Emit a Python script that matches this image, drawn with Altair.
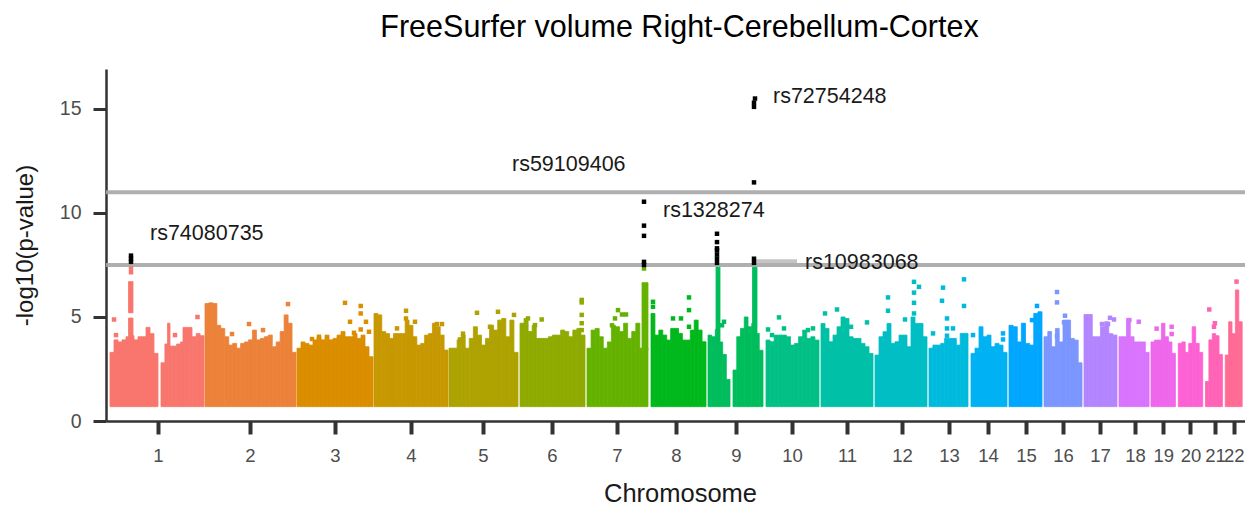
import math
import altair as alt
import pandas as pd

title_text = "FreeSurfer volume Right-Cerebellum-Cortex"
chrom_labels = [str(i) for i in range(1, 23)]
tick_pos = [158, 250, 335, 411, 483, 552, 617, 676, 736, 792, 847, 902, 949, 988, 1026, 1063, 1100, 1136, 1166, 1195, 1221, 1241]

# (chromosome, start, end, envelope of -log10 p across the segment)
seg_1a = (1, 110, 158, [3.3, 3.9, 3.8, 3.9, 4.05, 4.1, 3.9, 4.05, 4.05, 4.5, 4.2, 3.25])
seg_1b = (1, 161, 204, [2.8, 3.7, 3.6, 3.6, 3.7, 3.8, 3.95, 4.05, 4.05, 4.2, 4.1])
seg_2 = (2, 205, 296, [5.65, 5.68, 5.65, 4.6, 4.45, 4.05, 3.65, 3.73, 3.5, 3.73, 3.8, 3.9, 4.37, 3.9, 3.97, 4.05, 4.13, 3.57, 3.8, 4.3, 5.1, 4.7, 3.3])
seg_3 = (3, 297, 373, [3.5, 3.8, 3.73, 3.65, 3.9, 4.05, 3.9, 4.13, 3.9, 3.97, 4.13, 4.3, 4.05, 4.05, 4.2, 3.97, 4.13, 3.57, 3.09])
seg_4 = (4, 374, 448, [5.17, 5.1, 4.3, 4.2, 3.97, 4.2, 4.2, 4.2, 4.85, 4.6, 4.05, 3.65, 3.73, 4.13, 4.2, 4.7, 4.53, 4.13, 3.41])
seg_5 = (5, 449, 518, [3.5, 3.5, 3.9, 4.13, 3.5, 3.97, 4.53, 4.13, 3.65, 3.97, 4.6, 4.37, 4.85, 4.93, 4.05, 4.85, 3.3])
seg_6 = (6, 520, 585, [4.7, 4.93, 4.3, 4.6, 3.97, 3.97, 3.97, 4.05, 4.13, 4.13, 4.37, 4.3, 4.05, 4.37, 4.45, 4.13])
seg_7 = (7, 587, 648, [3.5, 4.37, 4.45, 4.05, 3.5, 3.8, 4.6, 4.53, 4.3, 4.7, 3.97, 4.3, 4.7, 3.5, 3.5])
seg_8 = (8, 651, 706, [5.17, 4.13, 4.37, 4.13, 3.89, 4.45, 4.45, 4.21, 3.89, 3.89, 4.37, 4.85, 4.37, 3.81])
seg_9a = (9, 708, 730, [4.13, 4.05, 4.4, 3.8, 3.2, 2.0])
seg_9b = (9, 733, 763, [2.45, 4.05, 4.45, 5.0, 4.53, 4.69, 4.21, 3.4])
seg_10 = (10, 766, 819, [3.89, 3.81, 4.13, 4.13, 4.13, 4.05, 3.65, 3.73, 4.05, 4.37, 3.97, 4.05, 3.89])
seg_11 = (11, 821, 873, [4.69, 4.45, 3.81, 4.13, 4.53, 5.0, 4.93, 4.05, 3.97, 3.97, 3.73, 3.57, 3.25])
seg_12 = (12, 875, 927, [3.17, 4.05, 4.29, 4.69, 3.73, 3.81, 4.13, 4.13, 3.57, 5.0, 4.69, 4.69, 4.05])
seg_13 = (13, 929, 968, [3.5, 3.65, 3.65, 3.73, 3.97, 3.97, 3.97, 3.65, 4.21, 4.21])
seg_14 = (14, 971, 1007, [3.25, 3.5, 4.53, 4.05, 4.13, 3.57, 3.73, 3.65, 3.3])
seg_15 = (15, 1009, 1042, [4.6, 4.53, 3.8, 4.7, 3.73, 3.65, 5.17, 5.25])
seg_16 = (16, 1044, 1082, [4.05, 4.3, 3.57, 4.45, 3.8, 4.85, 4.85, 3.97, 3.89, 2.8])
seg_17 = (17, 1084, 1117, [5.12, 5.12, 4.05, 4.05, 4.53, 4.77, 4.2, 4.13])
seg_18 = (18, 1119, 1151, [4.05, 4.05, 4.93, 4.05, 3.8, 3.8, 3.8, 3.3])
seg_19 = (19, 1153, 1179, [3.8, 3.89, 3.89, 4.7, 4.05, 3.8, 3.25])
seg_20 = (20, 1182, 1208, [3.73, 3.8, 3.3, 3.73, 4.53, 3.73, 3.3])
seg_21 = (21, 1211, 1229, [1.9, 3.9, 4.2, 4.1, 3.2])
seg_22 = (22, 1232, 1250, [3.17, 4.77, 4.2, 6.3, 4.77])
segments = [seg_1a, seg_1b, seg_2, seg_3, seg_4, seg_5, seg_6, seg_7, seg_8, seg_9a, seg_9b, seg_10,
            seg_11, seg_12, seg_13, seg_14, seg_15, seg_16, seg_17, seg_18, seg_19, seg_20, seg_21, seg_22]

# extra solid columns: chromosome, start, end, low, high
columns = [
    (1, 128.5, 133, 5.2, 6.7), (1, 128.5, 133, 4.0, 4.95), (1, 167.5, 170, 3.6, 4.7), (1, 183, 192, 3.8, 4.5),
    (7, 642, 648, 3.4, 6.65), (9, 716, 720, 3.8, 7.4), (9, 752.5, 757, 4.0, 7.4),
]
# isolated coloured hits: chromosome, position, -log10 p
hits = [
    (1, 114, 4.88), (1, 116, 4.13), (1, 131, 7.15), (1, 131, 7.37), (1, 175, 4.13), (1, 197.5, 5.0),
    (2, 232, 4.18), (2, 249, 4.66), (2, 263, 4.37), (2, 288, 5.62),
    (3, 345, 5.68), (3, 360.7, 5.53), (3, 360.7, 5.17), (3, 350, 4.77), (3, 366, 4.77), (3, 360.7, 4.4), (3, 354, 4.24), (3, 369, 4.29), (3, 312, 3.94), (3, 319, 4.05),
    (4, 406, 5.3), (4, 406, 4.93), (4, 397, 4.45), (4, 437, 4.66), (4, 442, 4.66), (4, 415, 4.77),
    (5, 460, 3.92), (5, 463, 4.2), (5, 477, 5.2), (5, 498, 5.25), (5, 514, 5.1), (5, 490, 4.53),
    (6, 581.7, 5.82), (6, 581.7, 5.7), (6, 581.7, 5.1), (6, 581.7, 4.7), (6, 581.7, 4.37), (6, 541.7, 4.88), (6, 535, 4.61), (6, 528, 4.93),
    (7, 618, 5.33), (7, 622, 5.12), (7, 626, 5.12), (7, 615, 4.93), (7, 612, 4.6), (7, 644, 7.33),
    (8, 653, 5.73), (8, 653, 5.49), (8, 689, 5.94), (8, 689, 5.33), (8, 673, 4.93), (8, 681, 4.93), (8, 689, 4.53),
    (9, 724, 4.77), (9, 722, 4.6),
    (10, 768, 4.4), (10, 772, 4.13), (10, 779, 4.98), (10, 784, 4.45), (10, 808, 4.37), (10, 813, 4.45),
    (11, 825, 5.17), (11, 837, 5.36), (11, 867, 4.74), (11, 851, 4.53),
    (12, 914, 6.69), (12, 919, 6.45), (12, 914, 6.17), (12, 914, 5.68), (12, 914, 5.17), (12, 888, 5.94), (12, 888, 5.3), (12, 905, 4.88),
    (13, 943, 6.41), (13, 942, 5.78), (13, 947, 4.93), (13, 947, 4.45), (13, 953, 4.45), (13, 947, 4.1), (13, 964, 6.81), (13, 964, 5.53), (13, 933, 4.21),
    (14, 973, 4.13), (14, 1003, 4.21), (14, 1003, 3.92),
    (15, 1037, 5.53), (15, 1032, 4.85),
    (16, 1057, 6.2), (16, 1057, 5.7), (16, 1065, 5.06), (16, 1064, 4.74), (16, 1057, 4.08),
    (17, 1110, 4.96), (17, 1114, 4.88), (17, 1102, 4.66), (17, 1108, 4.66),
    (18, 1140, 4.77), (18, 1130, 4.85),
    (19, 1159, 4.44), (19, 1175, 4.53), (19, 1175, 4.18),
    (21, 1215, 5.36), (21, 1221, 4.7), (21, 1220, 4.53),
    (22, 1244, 6.7),
]
# genome-wide significant hits
sig_pos = [131, 131, 131, 644, 644, 644, 644, 644, 717, 717, 717, 717, 717, 717, 717, 754, 754, 754, 754, 754, 755]
sig_val = [7.65, 7.8, 7.95, 7.5, 7.65, 8.9, 9.39, 10.54, 7.6, 7.8, 8.0, 8.2, 8.3, 8.6, 9.0, 7.6, 7.8, 11.47, 15.1, 15.3, 15.5]

thresholds = [7.5, 11.0]
label_names = ["rs74080735", "rs59109406", "rs1328274", "rs72754248", "rs10983068"]
label_pos = [150, 512, 663, 773, 805]
label_val = [9.04, 12.36, 10.19, 15.63, 7.69]
floor_val = 0.69

X_DOMAIN = [106, 1119, 1253]
X_RANGE = [0, 1013, 1139]
Y_DOMAIN = [0, 16.92]

def hcl(h, c=100.0, l=65.0):
    hr = math.radians(h)
    L, U, V = l, c * math.cos(hr), c * math.sin(hr)
    un, vn = 0.19783, 0.46832
    u = U / (13 * L) + un
    v = V / (13 * L) + vn
    Y = ((L + 16) / 116) ** 3
    X = 9 * Y * u / (4 * v)
    Z = -X / 3 - 5 * Y + 3 * Y / v
    rgb = [3.2406 * X - 1.5372 * Y - 0.4986 * Z,
           -0.9689 * X + 1.8758 * Y + 0.0415 * Z,
           0.0557 * X - 0.2040 * Y + 1.0570 * Z]
    out = []
    for ch in rgb:
        ch = max(0.0, min(1.0, ch))
        ch = 12.92 * ch if ch <= 0.0031308 else 1.055 * ch ** (1 / 2.4) - 0.055
        out.append(round(ch * 255))
    return "#%02X%02X%02X" % tuple(out)

palette = [hcl(15 + 360 * i / 22) for i in range(22)]

rows = []
for chrom, start, end, tops in segments:
    w = (end - start) / len(tops)
    for i, t in enumerate(tops):
        rows.append(dict(chrom=chrom, x0=start + i * w, x1=start + (i + 1) * w, y0=floor_val, y1=t))
for chrom, a, b, lo, hi in columns:
    rows.append(dict(chrom=chrom, x0=a, x1=b, y0=lo, y1=hi))
bars_df = pd.DataFrame(rows)
hits_df = pd.DataFrame(hits, columns=["chrom", "pos", "val"])
sig_df = pd.DataFrame({"pos": sig_pos, "val": sig_val})
thr_df = pd.DataFrame({"val": thresholds})
lab_df = pd.DataFrame({"name": label_names, "pos": label_pos, "val": label_val})
conn_df = pd.DataFrame({"pos": [755], "pos2": [797], "val": [7.68]})

FONT = "Liberation Sans"
xs = alt.Scale(domain=X_DOMAIN, range=X_RANGE, nice=False, zero=False)
ys = alt.Scale(domain=Y_DOMAIN, nice=False, zero=False)
cs = alt.Scale(domain=list(range(1, 23)), range=palette)

x_axis = alt.Axis(
    values=tick_pos, title="Chromosome", grid=False,
    labelExpr="indexof(%s, datum.value) + 1" % str(tick_pos),
    labelOverlap=False, labelFlush=False, labelFontSize=18.5, labelColor="#4D4D4D", labelFont=FONT, labelPadding=12,
    tickSize=13, tickWidth=4, tickColor="#333333", domainColor="#333333", domainWidth=2.5,
    titleFont=FONT, titleFontSize=25.5, titleFontWeight="normal", titleColor="#1A1A1A", titlePadding=17, titleX=574,
)
y_axis = alt.Axis(
    values=[0, 5, 10, 15], title="-log10(p-value)", grid=False,
    labelFontSize=19.5, labelColor="#4D4D4D", labelFont=FONT, labelPadding=12,
    tickSize=13, tickWidth=3, tickColor="#333333", domainColor="#333333", domainWidth=2.5,
    titleFont=FONT, titleFontSize=24, titleFontWeight="normal", titleColor="#1A1A1A", titlePadding=22,
)

bars = alt.Chart(bars_df).mark_bar(strokeWidth=0.8, opacity=1).encode(
    x=alt.X("x0:Q", scale=xs, axis=x_axis),
    x2="x1:Q",
    y=alt.Y("y0:Q", scale=ys, axis=y_axis),
    y2="y1:Q",
    fill=alt.Fill("chrom:O", scale=cs, legend=None),
    stroke=alt.Stroke("chrom:O", scale=cs, legend=None),
)
hit_pts = alt.Chart(hits_df).mark_point(shape="square", filled=True, size=20, opacity=1).encode(
    x=alt.X("pos:Q", scale=xs), y=alt.Y("val:Q", scale=ys),
    color=alt.Color("chrom:O", scale=cs, legend=None),
)
sig_pts = alt.Chart(sig_df).mark_point(shape="square", filled=True, size=20, opacity=1, color="#000000").encode(
    x=alt.X("pos:Q", scale=xs), y=alt.Y("val:Q", scale=ys),
)
rules = alt.Chart(thr_df).mark_rule(color="#A6A6A6", strokeWidth=4, opacity=0.9).encode(y=alt.Y("val:Q", scale=ys))
conn = alt.Chart(conn_df).mark_rule(color="#C4C4C4", strokeWidth=4).encode(
    x=alt.X("pos:Q", scale=xs), x2="pos2:Q", y=alt.Y("val:Q", scale=ys),
)
labels = alt.Chart(lab_df).mark_text(align="left", baseline="middle", dy=1.5, font=FONT, fontSize=21.5, color="#1A1A1A").encode(
    x=alt.X("pos:Q", scale=xs), y=alt.Y("val:Q", scale=ys), text="name:N",
)

chart = alt.layer(bars, hit_pts, conn, rules, sig_pts, labels).properties(
    width=1139, height=352,
    title=alt.TitleParams(title_text, font=FONT, fontSize=30.5, fontWeight="normal", color="#000000", anchor="middle", dx=4, offset=26),
    autosize=alt.AutoSizeParams(type="none"),
    padding={"left": 98, "top": 61, "right": 0, "bottom": 87},
).configure_view(stroke=None)

chart.save("out.html", embed_options={"renderer": "svg", "actions": False})
